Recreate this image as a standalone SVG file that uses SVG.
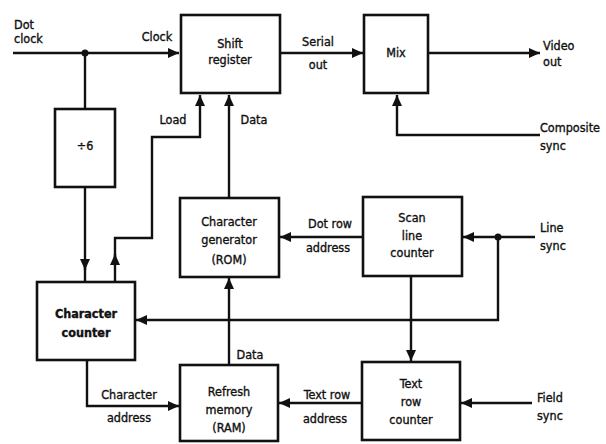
<svg xmlns="http://www.w3.org/2000/svg" width="606" height="444" viewBox="0 0 606 444">
<style>
.box{fill:#fff;stroke:#111;stroke-width:2.6}
.ln{fill:none;stroke:#111;stroke-width:2.4}
text{font-family:"Liberation Sans Narrow","DejaVu Sans Condensed","Liberation Sans",sans-serif;font-stretch:condensed;font-size:12.5px;fill:#111;stroke:#111;stroke-width:0.35}
.c{text-anchor:middle}
.b{font-weight:bold}
</style>
<defs>
<marker id="ah" markerUnits="userSpaceOnUse" markerWidth="12" markerHeight="10" refX="11" refY="5" orient="auto">
<path d="M0,0 L11,5 L0,10 z" fill="#111"/>
</marker>
</defs>
<rect width="606" height="444" fill="#fff"/>
<g id="connectors">
<path class="ln" d="M13,53 H179" marker-end="url(#ah)"/>
<path class="ln" d="M85,53 V109"/>
<path class="ln" d="M85,187 V270" marker-end="url(#ah)"/>
<path class="ln" d="M85,266 V282"/>
<path class="ln" d="M115,282 V254" marker-end="url(#ah)"/>
<path class="ln" d="M115,258 V238 H152 V137 H200 V95" marker-end="url(#ah)"/>
<path class="ln" d="M229,198 V95" marker-end="url(#ah)"/>
<path class="ln" d="M280,53 H363" marker-end="url(#ah)"/>
<path class="ln" d="M428,53 H540" marker-end="url(#ah)"/>
<path class="ln" d="M540,135 H397 V95" marker-end="url(#ah)"/>
<path class="ln" d="M363,237 H280" marker-end="url(#ah)"/>
<path class="ln" d="M535,237 H463" marker-end="url(#ah)"/>
<path class="ln" d="M498,237 V320 H136" marker-end="url(#ah)"/>
<path class="ln" d="M411,276 V361" marker-end="url(#ah)"/>
<path class="ln" d="M532,403 H461" marker-end="url(#ah)"/>
<path class="ln" d="M362,403 H279" marker-end="url(#ah)"/>
<path class="ln" d="M229,365 V278" marker-end="url(#ah)"/>
<path class="ln" d="M87,360 V406 H179" marker-end="url(#ah)"/>
<circle cx="85" cy="53" r="3.5" fill="#111"/>
<circle cx="498" cy="237" r="3.5" fill="#111"/>
</g>
<g id="labels">
<text x="14" y="29" font-size="11">Dot</text>
<text x="14" y="43" font-size="11">clock</text>
<text x="157" y="41" class="c">Clock</text>
<text x="173" y="124" class="c">Load</text>
<text x="254" y="124" class="c">Data</text>
<text x="318" y="46" class="c">Serial</text>
<text x="318" y="69" class="c">out</text>
<text x="543" y="50">Video</text>
<text x="543" y="66">out</text>
<text x="540" y="132">Composite</text>
<text x="540" y="150">sync</text>
<text x="330" y="228" class="c">Dot row</text>
<text x="328" y="252" class="c">address</text>
<text x="540" y="232">Line</text>
<text x="540" y="250">sync</text>
<text x="250" y="359" class="c">Data</text>
<text x="129" y="399" class="c">Character</text>
<text x="129" y="422" class="c">address</text>
<text x="327" y="399" class="c">Text row</text>
<text x="325" y="423" class="c">address</text>
<text x="537" y="402">Field</text>
<text x="537" y="420">sync</text>
</g>
<g id="shift-register">
<rect class="box" x="181" y="15" width="99" height="78"/>
<text x="230" y="48" class="c">Shift</text>
<text x="230" y="64" class="c">register</text>
</g>
<g id="mix">
<rect class="box" x="364" y="15" width="64" height="78"/>
<text x="396" y="57" class="c">Mix</text>
</g>
<g id="divide6">
<rect class="box" x="55" y="109" width="60" height="78"/>
<text x="85" y="150" class="c" font-size="14">÷6</text>
</g>
<g id="char-gen">
<rect class="box" x="180" y="198" width="99" height="79"/>
<text x="229" y="226" class="c">Character</text>
<text x="229" y="244" class="c">generator</text>
<text x="229" y="264" class="c">(ROM)</text>
</g>
<g id="scan-line-counter">
<rect class="box" x="363" y="197" width="99" height="79"/>
<text x="412" y="222" class="c">Scan</text>
<text x="412" y="240" class="c">line</text>
<text x="412" y="257" class="c">counter</text>
</g>
<g id="char-counter">
<rect class="box" x="37" y="282" width="98" height="78"/>
<text x="86" y="318" class="c b">Character</text>
<text x="86" y="337" class="c b">counter</text>
</g>
<g id="refresh-memory">
<rect class="box" x="180" y="365" width="98" height="76"/>
<text x="229" y="396" class="c">Refresh</text>
<text x="229" y="414" class="c">memory</text>
<text x="229" y="432" class="c">(RAM)</text>
</g>
<g id="text-row-counter">
<rect class="box" x="362" y="362" width="98" height="78"/>
<text x="411" y="388" class="c">Text</text>
<text x="411" y="406" class="c">row</text>
<text x="411" y="424" class="c">counter</text>
</g>
</svg>
